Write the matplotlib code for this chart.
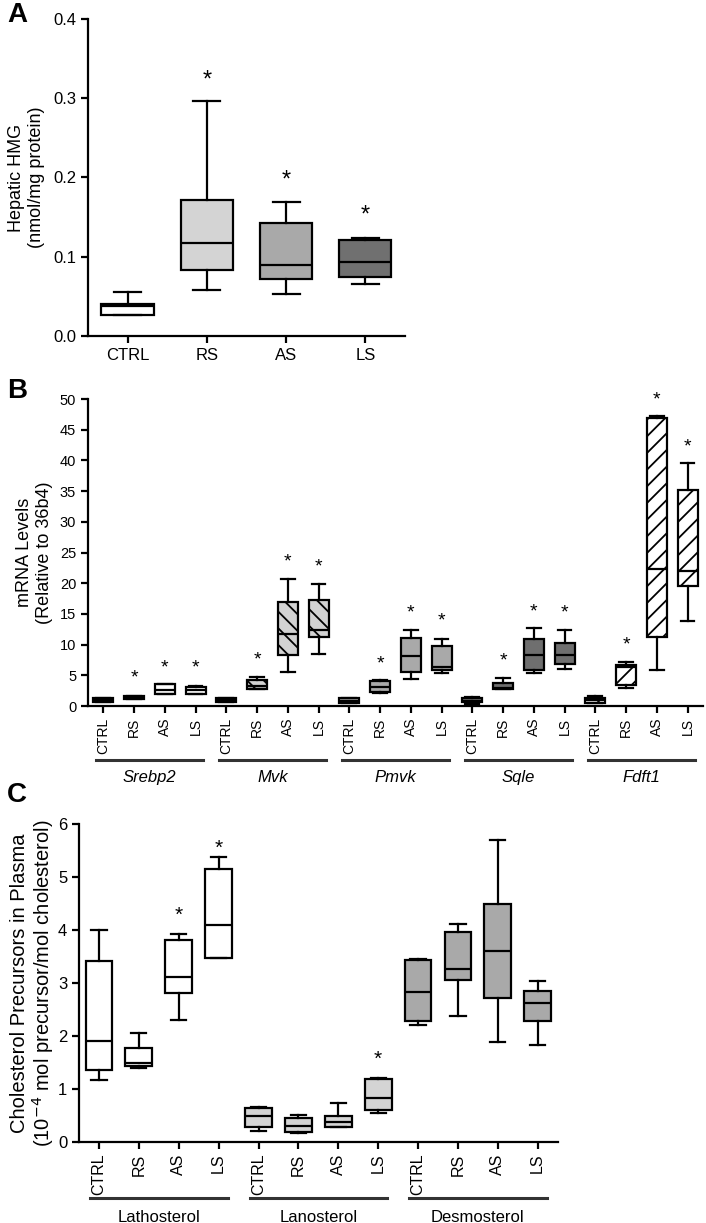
import matplotlib
matplotlib.use("Agg")
import matplotlib.pyplot as plt
import matplotlib.transforms as mtrans

plt.rcParams['font.family'] = ['Liberation Sans', 'DejaVu Sans']
plt.rcParams['hatch.linewidth'] = 1.3

# ---- Painel A: HMG hepatico ----
grupos = ["CTRL", "RS", "AS", "LS"]
a_q1 = [0.027, 0.083, 0.072, 0.075]
a_med = [0.0375, 0.117, 0.090, 0.093]
a_q3 = [0.040, 0.171, 0.142, 0.121]
a_lo = [0.027, 0.0576, 0.0526, 0.066]
a_hi = [0.056, 0.296, 0.169, 0.124]
a_star = [None, 0.328, 0.201, 0.157]
a_cores = ["white", "#d4d4d4", "#a9a9a9", "#707070"]

# ---- Painel B: mRNA ----
genes = ["Srebp2", "Mvk", "Pmvk", "Sqle", "Fdft1"]
b_q1 = [0.7, 1.14, 1.96, 2.0,
        0.7, 2.83, 8.27, 11.2,
        0.54, 2.34, 5.5, 5.8,
        0.6, 2.7, 5.9, 6.8,
        0.54, 3.5, 11.25, 19.5]
b_med = [1.0, 1.35, 2.56, 2.66,
         1.0, 3.3, 11.8, 12.4,
         0.9, 3.15, 8.1, 6.3,
         0.9, 3.0, 8.3, 8.3,
         0.95, 6.4, 22.3, 22.0]
b_q3 = [1.25, 1.68, 3.53, 3.15,
        1.25, 4.24, 17.0, 17.3,
        1.25, 4.08, 11.1, 9.8,
        1.36, 3.8, 10.9, 10.2,
        1.36, 6.7, 46.9, 35.2]
b_lo = [0.6, 1.1, 1.9, 2.0,
        0.6, 2.8, 5.6, 8.5,
        0.5, 2.2, 4.4, 5.4,
        0.4, 2.7, 5.4, 6.1,
        0.54, 3.0, 5.9, 13.9]
b_hi = [1.3, 1.7, 3.6, 3.2,
        1.35, 4.78, 20.7, 19.8,
        1.3, 4.2, 12.4, 10.9,
        1.4, 4.6, 12.7, 12.4,
        1.6, 7.2, 47.2, 39.6]
b_star = [None, 5.3, 6.85, 6.85,
          None, 8.2, 24.2, 23.3,
          None, 7.6, 15.9, 14.5,
          None, 8.0, 16.0, 15.9,
          None, 10.65, 50.6, 42.9]
b_cores = ["white", "#d2d2d2", "#a9a9a9", "#6f6f6f", "white"]
b_hatch = [None, "\\\\", None, None, "//"]

# ---- Painel C: precursores no plasma ----
esteróis = ["Lathosterol", "Lanosterol", "Desmosterol"]
c_q1 = [1.35, 1.43, 2.82, 3.48,
        0.28, 0.18, 0.29, 0.60,
        2.28, 3.06, 2.71, 2.28]
c_med = [1.91, 1.49, 3.11, 4.10,
         0.50, 0.31, 0.37, 0.84,
         2.83, 3.27, 3.60, 2.62]
c_q3 = [3.41, 1.78, 3.81, 5.16,
        0.65, 0.46, 0.50, 1.19,
        3.43, 3.97, 4.50, 2.85]
c_lo = [1.17, 1.40, 2.31, 3.48,
        0.20, 0.17, 0.28, 0.55,
        2.21, 2.37, 1.88, 1.83]
c_hi = [4.0, 2.06, 3.92, 5.37,
        0.66, 0.51, 0.73, 1.20,
        3.45, 4.12, 5.70, 3.04]
c_star = [None, None, 4.35, 5.62,
          None, None, None, 1.63,
          None, None, None, None]
c_cores = ["white", "#d4d4d4", "#a9a9a9"]


def caixas(ax, q1, med, q3, lo, hi, largura, cap, cores, hatches, lw):
    stats = []
    for i in range(len(q1)):
        stats.append(dict(q1=q1[i], med=med[i], q3=q3[i], whislo=lo[i], whishi=hi[i], fliers=[]))
    pos = list(range(1, len(q1) + 1))
    bp = ax.bxp(stats, positions=pos, widths=largura, capwidths=cap, patch_artist=True,
                showfliers=False,
                boxprops=dict(linewidth=lw, edgecolor="black"),
                medianprops=dict(color="black", linewidth=lw),
                whiskerprops=dict(color="black", linewidth=lw),
                capprops=dict(color="black", linewidth=lw))
    for i, caixa in enumerate(bp['boxes']):
        caixa.set_facecolor(cores[i])
        if hatches[i]:
            caixa.set_hatch(hatches[i])
    return pos


def estrelas(ax, pos, ys, tam):
    for p, s in zip(pos, ys):
        if s is not None:
            ax.annotate("*", (p, s), xytext=(0, -3), textcoords="offset points",
                        ha="center", va="center", fontsize=tam, annotation_clip=False)


def estilo(ax, lw=1.6):
    for s in ["top", "right"]:
        ax.spines[s].set_visible(False)
    for s in ["left", "bottom"]:
        ax.spines[s].set_linewidth(lw)
    ax.tick_params(width=lw, length=5, colors="black")


fig = plt.figure(figsize=(7.06, 12.23), dpi=100)

# Painel A
axA = fig.add_axes([0.1246, 0.7253, 0.449, 0.2592])
pos = caixas(axA, a_q1, a_med, a_q3, a_lo, a_hi, 0.66, 0.34, a_cores, [None] * 4, 1.6)
estrelas(axA, pos, a_star, 17)
axA.set_xlim(0.5, 4.5)
axA.set_ylim(0, 0.4)
axA.set_yticks([0.0, 0.1, 0.2, 0.3, 0.4])
axA.set_yticklabels(["0.0", "0.1", "0.2", "0.3", "0.4"], fontsize=12)
axA.set_xticks(pos)
axA.set_xticklabels(grupos, fontsize=12)
axA.set_ylabel("Hepatic HMG\n(nmol/mg protein)", fontsize=13, labelpad=6)
estilo(axA)

# Painel B
axB = fig.add_axes([0.1246, 0.4227, 0.871, 0.251])
b_cor_cx = [b_cores[i // 4] for i in range(20)]
b_hatch_cx = [b_hatch[i // 4] for i in range(20)]
pos = caixas(axB, b_q1, b_med, b_q3, b_lo, b_hi, 0.65, 0.45, b_cor_cx, b_hatch_cx, 1.6)
estrelas(axB, pos, b_star, 14)
axB.set_xlim(0.5, 20.5)
axB.set_ylim(0, 50)
axB.set_yticks(range(0, 51, 5))
axB.tick_params(axis="y", labelsize=10.5)
axB.set_xticks(pos)
axB.set_xticklabels(grupos * 5, rotation=90, fontsize=10)
axB.set_ylabel("mRNA Levels\n(Relative to 36b4)", fontsize=13, labelpad=5)
estilo(axB)
trB = mtrans.blended_transform_factory(axB.transData, axB.transAxes)
for g, nome in enumerate(genes):
    axB.plot([g * 4 + 0.75, g * 4 + 4.25], [-0.176, -0.176], color="#333333", lw=2.2,
             transform=trB, clip_on=False)
    axB.text(g * 4 + 2.5, -0.232, nome, transform=trB, ha="center", va="center",
             fontsize=12, style="italic")

# Painel C
axC = fig.add_axes([0.1119, 0.0662, 0.678, 0.26])
c_cor_cx = [c_cores[i // 4] for i in range(12)]
pos = caixas(axC, c_q1, c_med, c_q3, c_lo, c_hi, 0.67, 0.38, c_cor_cx, [None] * 12, 1.6)
estrelas(axC, pos, c_star, 15)
axC.set_xlim(0.5, 12.5)
axC.set_ylim(0, 6)
axC.set_yticks(range(0, 7))
axC.tick_params(axis="y", labelsize=12)
axC.set_xticks(pos)
axC.set_xticklabels(grupos * 3, rotation=90, fontsize=11.5)
axC.set_ylabel("Cholesterol Precursors in Plasma\n(10$^{-4}$ mol precursor/mol cholesterol)",
               fontsize=14.5, linespacing=1.05)
axC.yaxis.set_label_coords(-0.048, 0.5)
estilo(axC)
trC = mtrans.blended_transform_factory(axC.transData, axC.transAxes)
for g, nome in enumerate(esteróis):
    axC.plot([g * 4 + 0.78, g * 4 + 4.23], [-0.176, -0.176], color="#333333", lw=2.2,
             transform=trC, clip_on=False)
    axC.text(g * 4 + 2.5, -0.238, nome, transform=trC, ha="center", va="center", fontsize=12)

# Letras dos paineis
fig.text(0.010, 0.988, "A", fontsize=20, fontweight="bold", va="center")
fig.text(0.010, 0.680, "B", fontsize=20, fontweight="bold", va="center")
fig.text(0.010, 0.350, "C", fontsize=20, fontweight="bold", va="center")

fig.savefig("out.png", dpi=100)
